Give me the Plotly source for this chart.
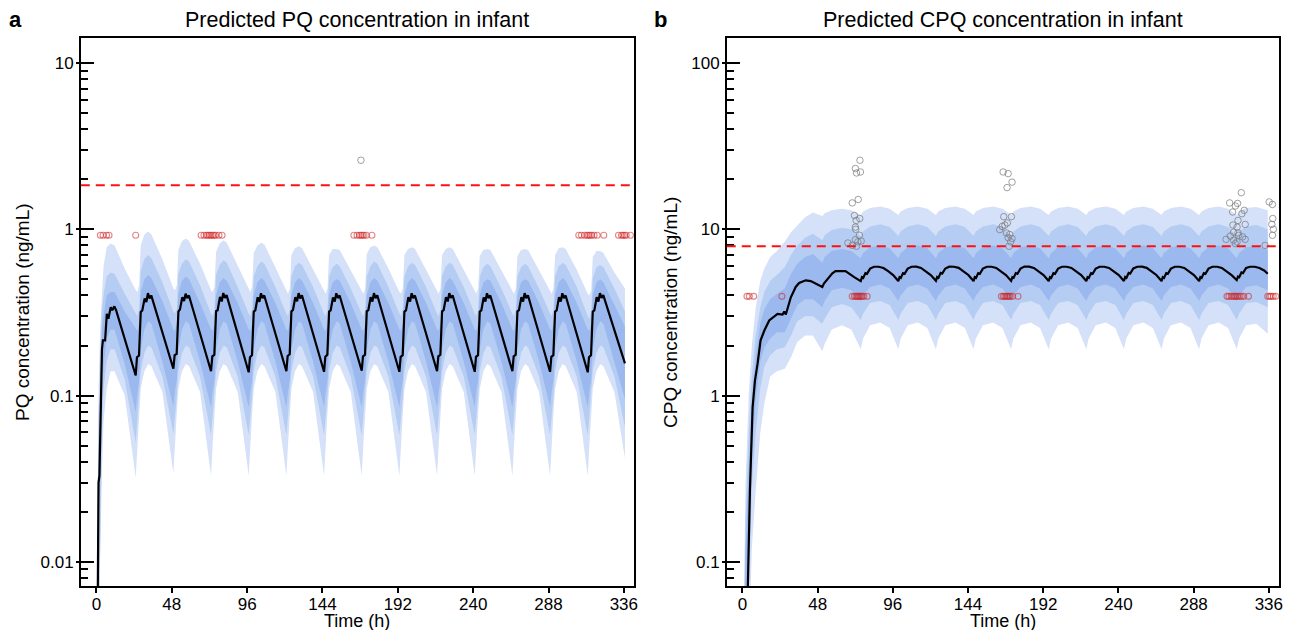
import plotly.graph_objects as go


def flat(rows):
    return [v for row in rows for v in row]


# ---------------- panel a : PQ in infant ----------------
pq_med_t = flat([
    [0.6, 1.3, 1.9, 2.3, 3.5, 4.1, 5.5, 6.6, 7.6, 9.1, 10.1, 11.4, 12.5],
    [25.0, 25.8, 27.1, 28.2, 29.2, 30.7, 31.8, 32.8, 33.8, 34.9],
    [49.0, 49.8, 51.1, 52.2, 53.2, 54.7, 55.8, 56.8, 57.8, 58.9],
    [73.0, 73.8, 75.1, 76.2, 77.2, 78.7, 79.8, 80.8, 81.8, 82.9],
    [97.0, 97.8, 99.1, 100.2, 101.2, 102.7, 103.8, 104.8, 105.8, 106.9],
    [121.0, 121.8, 123.1, 124.2, 125.2, 126.7, 127.8, 128.8, 129.8, 130.9],
    [145.0, 145.8, 147.1, 148.2, 149.2, 150.7, 151.8, 152.8, 153.8, 154.9],
    [169.0, 169.8, 171.1, 172.2, 173.2, 174.7, 175.8, 176.8, 177.8, 178.9],
    [193.0, 193.8, 195.1, 196.2, 197.2, 198.7, 199.8, 200.8, 201.8, 202.9],
    [217.0, 217.8, 219.1, 220.2, 221.2, 222.7, 223.8, 224.8, 225.8, 226.9],
    [241.0, 241.8, 243.1, 244.2, 245.2, 246.7, 247.8, 248.8, 249.8, 250.9],
    [265.0, 265.8, 267.1, 268.2, 269.2, 270.7, 271.8, 272.8, 273.8, 274.9],
    [289.0, 289.8, 291.1, 292.2, 293.2, 294.7, 295.8, 296.8, 297.8, 298.9],
    [313.0, 313.8, 315.1, 316.2, 317.2, 318.7, 319.8, 320.8, 321.8, 322.9],
    [336.7],
])
pq_median = flat([
    [0.003, 0.030, 0.033, 0.06, 0.19, 0.215, 0.215, 0.31, 0.29, 0.34, 0.326, 0.344, 0.326],
    [0.132, 0.170, 0.174, 0.318, 0.325, 0.384, 0.365, 0.413, 0.384, 0.400],
    [0.145, 0.175, 0.178, 0.320, 0.330, 0.390, 0.370, 0.410, 0.385, 0.400],
    [0.140, 0.172, 0.176, 0.322, 0.326, 0.392, 0.368, 0.414, 0.386, 0.402],
    [0.138, 0.170, 0.175, 0.320, 0.325, 0.390, 0.366, 0.412, 0.385, 0.400],
    [0.140, 0.173, 0.177, 0.321, 0.327, 0.391, 0.369, 0.413, 0.384, 0.401],
    [0.139, 0.171, 0.176, 0.320, 0.325, 0.389, 0.367, 0.412, 0.386, 0.400],
    [0.141, 0.172, 0.176, 0.322, 0.326, 0.390, 0.368, 0.413, 0.385, 0.401],
    [0.139, 0.171, 0.175, 0.320, 0.325, 0.390, 0.367, 0.412, 0.385, 0.400],
    [0.140, 0.172, 0.176, 0.321, 0.326, 0.391, 0.368, 0.413, 0.386, 0.401],
    [0.139, 0.171, 0.175, 0.320, 0.325, 0.389, 0.367, 0.412, 0.385, 0.400],
    [0.140, 0.172, 0.176, 0.321, 0.326, 0.390, 0.368, 0.413, 0.385, 0.401],
    [0.139, 0.171, 0.175, 0.320, 0.325, 0.390, 0.367, 0.412, 0.385, 0.400],
    [0.138, 0.170, 0.175, 0.320, 0.325, 0.390, 0.368, 0.413, 0.386, 0.402],
    [0.156],
])

pq_band_t = flat([
    [0.6, 1.3, 2.3, 3.5, 4.5, 6.5, 9.0, 11.5, 18.0],
    [25.0, 26.0, 27.2, 28.2, 30.5, 33.0, 35.0, 42.0],
    [49.0, 50.0, 51.2, 52.2, 54.5, 57.0, 59.0, 66.0],
    [73.0, 74.0, 75.2, 76.2, 78.5, 81.0, 83.0, 90.0],
    [97.0, 98.0, 99.2, 100.2, 102.5, 105.0, 107.0, 114.0],
    [121.0, 122.0, 123.2, 124.2, 126.5, 129.0, 131.0, 138.0],
    [145.0, 146.0, 147.2, 148.2, 150.5, 153.0, 155.0, 162.0],
    [169.0, 170.0, 171.2, 172.2, 174.5, 177.0, 179.0, 186.0],
    [193.0, 194.0, 195.2, 196.2, 198.5, 201.0, 203.0, 210.0],
    [217.0, 218.0, 219.2, 220.2, 222.5, 225.0, 227.0, 234.0],
    [241.0, 242.0, 243.2, 244.2, 246.5, 249.0, 251.0, 258.0],
    [265.0, 266.0, 267.2, 268.2, 270.5, 273.0, 275.0, 282.0],
    [289.0, 290.0, 291.2, 292.2, 294.5, 297.0, 299.0, 306.0],
    [313.0, 314.0, 315.2, 316.2, 318.5, 321.0, 323.0, 330.0],
    [336.7],
])
pq_hi_outer = flat([
    [0.015, 0.10, 0.25, 0.45, 0.60, 0.78, 0.82, 0.80, 0.58],
    [0.43, 0.42, 0.46, 0.80, 0.93, 0.97, 0.93, 0.66],
    [0.44, 0.43, 0.46, 0.75, 0.85, 0.88, 0.85, 0.62],
    [0.43, 0.42, 0.45, 0.73, 0.82, 0.86, 0.83, 0.60],
    [0.43, 0.42, 0.45, 0.72, 0.80, 0.83, 0.81, 0.59],
    [0.42, 0.41, 0.44, 0.70, 0.77, 0.79, 0.77, 0.57],
    [0.42, 0.41, 0.44, 0.70, 0.76, 0.76, 0.75, 0.56],
    [0.42, 0.41, 0.44, 0.71, 0.78, 0.80, 0.78, 0.58],
    [0.42, 0.41, 0.44, 0.70, 0.76, 0.78, 0.76, 0.57],
    [0.42, 0.41, 0.44, 0.70, 0.76, 0.78, 0.76, 0.57],
    [0.42, 0.41, 0.44, 0.69, 0.75, 0.76, 0.75, 0.56],
    [0.42, 0.41, 0.44, 0.69, 0.75, 0.76, 0.75, 0.56],
    [0.42, 0.41, 0.44, 0.70, 0.77, 0.78, 0.76, 0.57],
    [0.41, 0.40, 0.43, 0.68, 0.74, 0.74, 0.72, 0.55],
    [0.44],
])
pq_hi_mid = flat([
    [0.009, 0.07, 0.15, 0.33, 0.40, 0.52, 0.55, 0.54, 0.41],
    [0.31, 0.30, 0.33, 0.56, 0.66, 0.70, 0.67, 0.48],
    [0.32, 0.31, 0.33, 0.54, 0.62, 0.66, 0.64, 0.46],
    [0.31, 0.30, 0.33, 0.53, 0.61, 0.65, 0.63, 0.45],
    [0.31, 0.30, 0.33, 0.52, 0.60, 0.64, 0.62, 0.45],
    [0.31, 0.30, 0.33, 0.52, 0.60, 0.63, 0.61, 0.45],
    [0.31, 0.30, 0.33, 0.52, 0.59, 0.62, 0.60, 0.44],
    [0.31, 0.30, 0.33, 0.52, 0.60, 0.64, 0.62, 0.45],
    [0.31, 0.30, 0.33, 0.52, 0.60, 0.63, 0.61, 0.45],
    [0.31, 0.30, 0.33, 0.52, 0.60, 0.63, 0.61, 0.45],
    [0.31, 0.30, 0.33, 0.52, 0.59, 0.62, 0.60, 0.44],
    [0.31, 0.30, 0.33, 0.52, 0.59, 0.62, 0.60, 0.44],
    [0.31, 0.30, 0.33, 0.52, 0.60, 0.63, 0.61, 0.45],
    [0.30, 0.29, 0.32, 0.51, 0.59, 0.61, 0.59, 0.44],
    [0.32],
])
pq_hi_inner = flat([
    [0.006, 0.05, 0.10, 0.26, 0.30, 0.40, 0.42, 0.42, 0.32],
    [0.25, 0.245, 0.27, 0.42, 0.50, 0.53, 0.51, 0.37],
    [0.25, 0.245, 0.27, 0.41, 0.49, 0.52, 0.50, 0.36],
    [0.25, 0.245, 0.27, 0.40, 0.48, 0.51, 0.49, 0.36],
    [0.25, 0.245, 0.27, 0.40, 0.48, 0.51, 0.49, 0.36],
    [0.25, 0.245, 0.27, 0.40, 0.48, 0.51, 0.49, 0.36],
    [0.25, 0.245, 0.27, 0.40, 0.48, 0.50, 0.49, 0.36],
    [0.25, 0.245, 0.27, 0.40, 0.48, 0.51, 0.49, 0.36],
    [0.25, 0.245, 0.27, 0.40, 0.48, 0.51, 0.49, 0.36],
    [0.25, 0.245, 0.27, 0.40, 0.48, 0.51, 0.49, 0.36],
    [0.25, 0.245, 0.27, 0.40, 0.48, 0.50, 0.49, 0.36],
    [0.25, 0.245, 0.27, 0.40, 0.48, 0.50, 0.49, 0.36],
    [0.25, 0.245, 0.27, 0.40, 0.48, 0.51, 0.49, 0.36],
    [0.25, 0.245, 0.27, 0.40, 0.48, 0.50, 0.48, 0.35],
    [0.26],
])
pq_lo_inner = flat([
    [0.0015, 0.015, 0.035, 0.10, 0.15, 0.22, 0.25, 0.25, 0.155],
    [0.080, 0.100, 0.122, 0.19, 0.25, 0.28, 0.27, 0.16],
    [0.086, 0.106, 0.126, 0.19, 0.25, 0.28, 0.27, 0.16],
    [0.085, 0.105, 0.125, 0.19, 0.25, 0.28, 0.27, 0.16],
    [0.085, 0.105, 0.125, 0.19, 0.25, 0.28, 0.27, 0.16],
    [0.085, 0.105, 0.125, 0.19, 0.25, 0.28, 0.27, 0.16],
    [0.085, 0.105, 0.125, 0.19, 0.25, 0.28, 0.27, 0.16],
    [0.085, 0.105, 0.125, 0.19, 0.25, 0.28, 0.27, 0.16],
    [0.085, 0.105, 0.125, 0.19, 0.25, 0.28, 0.27, 0.16],
    [0.085, 0.105, 0.125, 0.19, 0.25, 0.28, 0.27, 0.16],
    [0.085, 0.105, 0.125, 0.19, 0.25, 0.28, 0.27, 0.16],
    [0.085, 0.105, 0.125, 0.19, 0.25, 0.28, 0.27, 0.16],
    [0.085, 0.105, 0.125, 0.19, 0.25, 0.28, 0.27, 0.16],
    [0.085, 0.105, 0.125, 0.19, 0.25, 0.28, 0.27, 0.16],
    [0.095],
])
pq_lo_mid = flat([
    [0.001, 0.008, 0.02, 0.06, 0.11, 0.16, 0.19, 0.19, 0.125],
    [0.052, 0.070, 0.097, 0.14, 0.18, 0.20, 0.195, 0.13],
    [0.059, 0.076, 0.10, 0.14, 0.18, 0.20, 0.195, 0.13],
    [0.058, 0.075, 0.10, 0.14, 0.18, 0.20, 0.195, 0.13],
    [0.058, 0.075, 0.10, 0.14, 0.18, 0.20, 0.195, 0.13],
    [0.058, 0.075, 0.10, 0.14, 0.18, 0.20, 0.195, 0.13],
    [0.058, 0.075, 0.10, 0.14, 0.18, 0.20, 0.195, 0.13],
    [0.058, 0.075, 0.10, 0.14, 0.18, 0.20, 0.195, 0.13],
    [0.058, 0.075, 0.10, 0.14, 0.18, 0.20, 0.195, 0.13],
    [0.058, 0.075, 0.10, 0.14, 0.18, 0.20, 0.195, 0.13],
    [0.058, 0.075, 0.10, 0.14, 0.18, 0.20, 0.195, 0.13],
    [0.058, 0.075, 0.10, 0.14, 0.18, 0.20, 0.195, 0.13],
    [0.058, 0.075, 0.10, 0.14, 0.18, 0.20, 0.195, 0.13],
    [0.058, 0.075, 0.10, 0.14, 0.18, 0.20, 0.195, 0.13],
    [0.065],
])
pq_lo_outer = flat([
    [0.0005, 0.004, 0.01, 0.035, 0.07, 0.11, 0.14, 0.14, 0.10],
    [0.032, 0.047, 0.078, 0.11, 0.14, 0.155, 0.15, 0.105],
    [0.034, 0.050, 0.08, 0.11, 0.14, 0.155, 0.15, 0.105],
    [0.033, 0.050, 0.08, 0.11, 0.14, 0.155, 0.15, 0.105],
    [0.033, 0.050, 0.08, 0.11, 0.14, 0.155, 0.15, 0.105],
    [0.033, 0.050, 0.08, 0.11, 0.14, 0.155, 0.15, 0.105],
    [0.033, 0.050, 0.08, 0.11, 0.14, 0.155, 0.15, 0.105],
    [0.033, 0.050, 0.08, 0.11, 0.14, 0.155, 0.15, 0.105],
    [0.033, 0.050, 0.08, 0.11, 0.14, 0.155, 0.15, 0.105],
    [0.033, 0.050, 0.08, 0.11, 0.14, 0.155, 0.15, 0.105],
    [0.033, 0.050, 0.08, 0.11, 0.14, 0.155, 0.15, 0.105],
    [0.033, 0.050, 0.08, 0.11, 0.14, 0.155, 0.15, 0.105],
    [0.033, 0.050, 0.08, 0.11, 0.14, 0.155, 0.15, 0.105],
    [0.033, 0.050, 0.08, 0.11, 0.14, 0.155, 0.15, 0.105],
    [0.042],
])

pq_lloq = 1.84
pq_blq_level = 0.92
pq_blq_t = [2.5, 4.2, 6.4, 8.0, 25.0,
            66.7, 68.5, 70.0, 71.0, 72.0, 73.0, 74.0, 75.0, 76.0, 78.0, 80.0,
            164.0, 166.0, 167.5, 168.5, 169.5, 170.5, 172.0, 175.5,
            307.3, 309.0, 311.0, 312.5, 313.5, 314.5, 315.5, 317.0, 319.0, 323.2,
            332.6, 334.5, 335.5, 336.5, 337.5, 340.2]
pq_obs_t = [168.5]
pq_obs = [2.6]

# ---------------- panel b : CPQ in infant ----------------
cpq_med_t = flat([
    [2.6, 3.4, 4.8, 6.5, 8.0, 9.7, 11.6, 14.0, 17.1, 22.4, 25.6, 26.7, 27.7, 30.9, 34.0,
     36.2, 40.4, 43.6, 47.8],
    [51.0, 52.0, 54.2, 57.4, 59.4, 65.8, 71.1],
    [75.5, 76.3, 77.1, 78.5, 79.5, 81.5, 84.0, 87.0, 90.0, 93.0, 96.2],
    [99.5, 100.3, 101.1, 102.5, 103.5, 105.5, 108.0, 111.0, 114.0, 117.0, 120.2],
    [123.5, 124.3, 125.1, 126.5, 127.5, 129.5, 132.0, 135.0, 138.0, 141.0, 144.2],
    [147.5, 148.3, 149.1, 150.5, 151.5, 153.5, 156.0, 159.0, 162.0, 165.0, 168.2],
    [171.5, 172.3, 173.1, 174.5, 175.5, 177.5, 180.0, 183.0, 186.0, 189.0, 192.2],
    [195.5, 196.3, 197.1, 198.5, 199.5, 201.5, 204.0, 207.0, 210.0, 213.0, 216.2],
    [219.5, 220.3, 221.1, 222.5, 223.5, 225.5, 228.0, 231.0, 234.0, 237.0, 240.2],
    [243.5, 244.3, 245.1, 246.5, 247.5, 249.5, 252.0, 255.0, 258.0, 261.0, 264.2],
    [267.5, 268.3, 269.1, 270.5, 271.5, 273.5, 276.0, 279.0, 282.0, 285.0, 288.2],
    [291.5, 292.3, 293.1, 294.5, 295.5, 297.5, 300.0, 303.0, 306.0, 309.0, 312.2],
    [315.5, 316.3, 317.1, 318.5, 319.5, 321.5, 324.0, 327.0, 330.0, 333.0, 335.3],
])
cpq_median = flat([
    [0.03, 0.07, 0.27, 0.85, 1.23, 1.56, 2.15, 2.46, 2.83, 3.10, 3.07, 3.20, 3.07, 3.90, 4.50,
     4.75, 4.93, 4.88, 4.68],
    [4.50, 4.72, 4.98, 5.43, 5.60, 5.60, 5.17],
    [4.88, 5.15, 5.10, 5.45, 5.40, 5.80, 5.95, 5.95, 5.85, 5.60, 5.30],
    [4.88, 5.15, 5.10, 5.45, 5.40, 5.80, 5.95, 5.96, 5.85, 5.60, 5.30],
    [4.90, 5.16, 5.10, 5.46, 5.41, 5.81, 5.96, 5.95, 5.86, 5.61, 5.31],
    [4.88, 5.15, 5.10, 5.45, 5.40, 5.80, 5.95, 5.95, 5.85, 5.60, 5.30],
    [4.89, 5.15, 5.11, 5.45, 5.40, 5.80, 5.96, 5.96, 5.85, 5.60, 5.30],
    [4.88, 5.15, 5.10, 5.45, 5.40, 5.80, 5.95, 5.95, 5.85, 5.60, 5.30],
    [4.88, 5.15, 5.10, 5.45, 5.40, 5.80, 5.95, 5.95, 5.85, 5.60, 5.30],
    [4.89, 5.16, 5.10, 5.46, 5.41, 5.81, 5.95, 5.96, 5.86, 5.61, 5.31],
    [4.88, 5.15, 5.10, 5.45, 5.40, 5.80, 5.95, 5.95, 5.85, 5.60, 5.30],
    [4.88, 5.15, 5.10, 5.45, 5.40, 5.80, 5.95, 5.95, 5.85, 5.60, 5.30],
    [4.95, 5.20, 5.15, 5.50, 5.45, 5.85, 5.95, 5.95, 5.85, 5.65, 5.40],
])

cpq_band_t = flat([
    [1.0, 2.0, 4.0, 6.0, 8.5, 11.4, 14.0, 17.7, 22.0, 27.0, 31.0, 35.0, 40.0, 45.0],
    [51.0, 52.5, 57.0, 63.5, 69.5],
    [75.5, 77.0, 81.5, 88.0, 94.0],
    [99.5, 101.0, 105.5, 112.0, 118.0],
    [123.5, 125.0, 129.5, 136.0, 142.0],
    [147.5, 149.0, 153.5, 160.0, 166.0],
    [171.5, 173.0, 177.5, 184.0, 190.0],
    [195.5, 197.0, 201.5, 208.0, 214.0],
    [219.5, 221.0, 225.5, 232.0, 238.0],
    [243.5, 245.0, 249.5, 256.0, 262.0],
    [267.5, 269.0, 273.5, 280.0, 286.0],
    [291.5, 293.0, 297.5, 304.0, 310.0],
    [315.5, 317.0, 321.5, 328.0],
    [335.3],
])
cpq_hi_outer = flat([
    [0.07, 0.30, 1.0, 2.0, 3.4, 4.9, 5.8, 6.8, 7.4, 8.4, 9.6, 10.5, 11.8, 12.6],
    [12.0, 12.5, 13.0, 13.3, 13.0],
    [12.2, 12.8, 13.4, 13.7, 13.3],
    [12.2, 12.8, 13.4, 13.7, 13.3],
    [12.2, 12.8, 13.4, 13.7, 13.3],
    [12.2, 12.8, 13.4, 13.7, 13.3],
    [12.2, 12.8, 13.4, 13.7, 13.3],
    [12.2, 12.8, 13.4, 13.7, 13.3],
    [12.2, 12.8, 13.4, 13.7, 13.3],
    [12.2, 12.8, 13.4, 13.7, 13.3],
    [12.2, 12.8, 13.4, 13.7, 13.3],
    [12.2, 12.8, 13.4, 13.7, 13.3],
    [12.2, 12.8, 13.4, 13.6],
    [13.0],
])
cpq_hi_mid = flat([
    [0.04, 0.18, 0.6, 1.3, 2.3, 3.4, 4.2, 4.9, 5.3, 5.9, 7.0, 8.0, 8.9, 9.4],
    [8.6, 9.2, 9.9, 10.2, 10.0],
    [9.1, 9.7, 10.4, 10.7, 10.3],
    [9.1, 9.7, 10.4, 10.7, 10.3],
    [9.1, 9.7, 10.4, 10.7, 10.3],
    [9.1, 9.7, 10.4, 10.7, 10.3],
    [9.1, 9.7, 10.4, 10.7, 10.3],
    [9.1, 9.7, 10.4, 10.7, 10.3],
    [9.1, 9.7, 10.4, 10.7, 10.3],
    [9.1, 9.7, 10.4, 10.7, 10.3],
    [9.1, 9.7, 10.4, 10.7, 10.3],
    [9.1, 9.7, 10.4, 10.7, 10.3],
    [9.1, 9.7, 10.4, 10.6],
    [10.0],
])
cpq_hi_inner = flat([
    [0.03, 0.12, 0.35, 0.95, 1.7, 2.7, 3.3, 3.8, 4.1, 4.4, 5.4, 6.2, 6.8, 7.1],
    [6.3, 6.8, 7.4, 7.6, 7.4],
    [6.7, 7.2, 7.8, 8.0, 7.7],
    [6.7, 7.2, 7.8, 8.0, 7.7],
    [6.7, 7.2, 7.8, 8.0, 7.7],
    [6.7, 7.2, 7.8, 8.0, 7.7],
    [6.7, 7.2, 7.8, 8.0, 7.7],
    [6.7, 7.2, 7.8, 8.0, 7.7],
    [6.7, 7.2, 7.8, 8.0, 7.7],
    [6.7, 7.2, 7.8, 8.0, 7.7],
    [6.7, 7.2, 7.8, 8.0, 7.7],
    [6.7, 7.2, 7.8, 8.0, 7.7],
    [6.7, 7.2, 7.8, 7.9],
    [7.5],
])
cpq_lo_inner = flat([
    [0.01, 0.03, 0.08, 0.45, 0.95, 1.6, 1.95, 2.2, 2.4, 2.4, 2.9, 3.5, 3.8, 3.8],
    [3.4, 3.7, 4.3, 4.45, 4.3],
    [3.7, 4.0, 4.5, 4.65, 4.4],
    [3.7, 4.0, 4.5, 4.65, 4.4],
    [3.7, 4.0, 4.5, 4.65, 4.4],
    [3.7, 4.0, 4.5, 4.65, 4.4],
    [3.7, 4.0, 4.5, 4.65, 4.4],
    [3.7, 4.0, 4.5, 4.65, 4.4],
    [3.7, 4.0, 4.5, 4.65, 4.4],
    [3.7, 4.0, 4.5, 4.65, 4.4],
    [3.7, 4.0, 4.5, 4.65, 4.4],
    [3.7, 4.0, 4.5, 4.65, 4.4],
    [3.7, 4.0, 4.5, 4.6],
    [4.3],
])
cpq_lo_mid = flat([
    [0.005, 0.015, 0.05, 0.28, 0.6, 1.1, 1.5, 1.75, 1.9, 1.95, 2.3, 2.8, 3.0, 3.0],
    [2.7, 2.9, 3.4, 3.55, 3.4],
    [2.85, 3.1, 3.6, 3.7, 3.5],
    [2.85, 3.1, 3.6, 3.7, 3.5],
    [2.85, 3.1, 3.6, 3.7, 3.5],
    [2.85, 3.1, 3.6, 3.7, 3.5],
    [2.85, 3.1, 3.6, 3.7, 3.5],
    [2.85, 3.1, 3.6, 3.7, 3.5],
    [2.85, 3.1, 3.6, 3.7, 3.5],
    [2.85, 3.1, 3.6, 3.7, 3.5],
    [2.85, 3.1, 3.6, 3.7, 3.5],
    [2.85, 3.1, 3.6, 3.7, 3.5],
    [2.85, 3.1, 3.6, 3.65],
    [3.4],
])
cpq_lo_outer = flat([
    [0.002, 0.007, 0.025, 0.12, 0.27, 0.6, 0.9, 1.3, 1.4, 1.45, 1.7, 2.1, 2.3, 2.3],
    [1.85, 2.05, 2.5, 2.65, 2.5],
    [1.9, 2.2, 2.65, 2.75, 2.55],
    [1.9, 2.2, 2.65, 2.75, 2.55],
    [1.9, 2.2, 2.65, 2.75, 2.55],
    [1.9, 2.2, 2.65, 2.75, 2.55],
    [1.9, 2.2, 2.65, 2.75, 2.55],
    [1.9, 2.2, 2.65, 2.75, 2.55],
    [1.9, 2.2, 2.65, 2.75, 2.55],
    [1.9, 2.2, 2.65, 2.75, 2.55],
    [1.9, 2.2, 2.65, 2.75, 2.55],
    [1.9, 2.2, 2.65, 2.75, 2.55],
    [1.9, 2.2, 2.65, 2.7],
    [2.35],
])

cpq_lloq = 7.9
cpq_blq_level = 3.95
cpq_blq_t = [2.9, 4.4, 7.2, 25.2,
             70.1, 71.5, 72.5, 73.3, 74.0, 74.8, 75.6, 76.5, 77.5, 79.6,
             165.3, 166.5, 167.5, 168.5, 169.3, 170.2, 171.0, 172.5, 175.9,
             309.3, 310.5, 312.0, 313.2, 314.2, 315.0, 316.0, 317.2, 318.5, 320.0, 323.0,
             335.3, 336.5, 337.5, 338.8, 340.4]
cpq_obs_t = [75.0, 72.1, 75.3, 72.8, 70.1, 73.9, 71.5, 74.9, 72.6, 72.1, 72.3, 74.7,
             72.1, 67.3, 70.1, 73.7, 75.8, 72.8,
             166.4, 169.6, 172.1, 168.9, 166.8, 171.7, 169.1, 167.5, 165.8, 164.2,
             168.5, 170.6, 169.6, 172.1, 171.2, 170.2,
             318.4, 311.0, 316.0, 314.6, 320.3, 312.9, 318.8, 316.3, 320.9, 313.1,
             315.7, 313.5, 316.3, 316.7, 311.4, 319.2, 313.5, 315.7, 320.9, 308.7,
             314.6, 333.6, 336.2, 338.3, 338.5, 337.9, 338.9, 338.3]
cpq_obs = [26.0, 23.2, 22.1, 21.8, 14.4, 15.1, 12.1, 11.6, 11.3, 10.3, 10.0, 9.2,
           8.65, 8.27, 8.0, 8.4, 8.5, 7.9,
           22.1, 21.6, 19.2, 17.8, 11.9, 11.9, 10.9, 10.6, 10.4, 9.95,
           9.5, 9.3, 8.9, 8.8, 8.4, 7.9,
           16.6, 14.4, 14.3, 13.8, 13.0, 12.7, 12.4, 11.3, 10.7, 10.6,
           10.3, 9.6, 9.5, 9.2, 9.1, 9.0, 8.6, 8.4, 8.7, 8.7,
           8.2, 8.0, 14.6, 14.1, 11.6, 10.7, 10.0, 9.2]

time_ticks = [0, 48, 96, 144, 192, 240, 288, 336]
pq_ticks = [0.01, 0.1, 1, 10]
pq_ticktext = ["0.01", "0.1", "1", "10"]
cpq_ticks = [0.1, 1, 10, 100]
cpq_ticktext = ["0.1", "1", "10", "100"]

# ---------------- styling ----------------
FONT = "Liberation Sans, Arial, sans-serif"
C_OUTER = "#d4e1f8"
C_MID = "#b5ccf3"
C_INNER = "#9bb9ee"
W, H = 1285, 622  # page body keeps its 8px margin

fig = go.Figure()


def add_panel(xa, ya, band_t, bands, med_t, med, blq_t, blq_level, obs_t, obs):
    for lo, hi, col in bands:
        fig.add_trace(go.Scatter(
            x=band_t + band_t[::-1], y=hi + lo[::-1], xaxis=xa, yaxis=ya,
            fill="toself", fillcolor=col, line=dict(width=0), mode="lines",
            hoverinfo="skip", showlegend=False))
    fig.add_trace(go.Scatter(x=med_t, y=med, xaxis=xa, yaxis=ya, mode="lines",
                             line=dict(color="black", width=2.2), showlegend=False))
    fig.add_trace(go.Scatter(x=blq_t, y=[blq_level] * len(blq_t), xaxis=xa, yaxis=ya,
                             mode="markers", showlegend=False,
                             marker=dict(symbol="circle-open", size=6,
                                         color="rgba(205,35,35,0.55)",
                                         line=dict(width=1.1))))
    fig.add_trace(go.Scatter(x=obs_t, y=obs, xaxis=xa, yaxis=ya, mode="markers",
                             showlegend=False,
                             marker=dict(symbol="circle-open", size=6.5,
                                         color="rgba(120,120,120,0.7)",
                                         line=dict(width=1))))


add_panel("x", "y", pq_band_t,
          [(pq_lo_outer, pq_hi_outer, C_OUTER), (pq_lo_mid, pq_hi_mid, C_MID),
           (pq_lo_inner, pq_hi_inner, C_INNER)],
          pq_med_t, pq_median, pq_blq_t, pq_blq_level, pq_obs_t, pq_obs)
add_panel("x2", "y2", cpq_band_t,
          [(cpq_lo_outer, cpq_hi_outer, C_OUTER), (cpq_lo_mid, cpq_hi_mid, C_MID),
           (cpq_lo_inner, cpq_hi_inner, C_INNER)],
          cpq_med_t, cpq_median, cpq_blq_t, cpq_blq_level, cpq_obs_t, cpq_obs)

# empty traces so the overlay axes (outer part of the major ticks) get drawn
fig.add_trace(go.Scatter(x=[], y=[], xaxis="x", yaxis="y3", showlegend=False))
fig.add_trace(go.Scatter(x=[], y=[], xaxis="x2", yaxis="y4", showlegend=False))

# LLOQ dashed lines
for yref, xref, val in [("y", "x domain", pq_lloq), ("y2", "x2 domain", cpq_lloq)]:
    fig.add_shape(type="line", xref=xref, yref=yref, x0=0, x1=1, y0=val, y1=val,
                  line=dict(color="#ff1010", width=2, dash="9px,6px"))


def px_x(p):
    return (p - 8) / W


def px_y(p):
    return 1 - (p - 8) / H


def minor_vals(lo_exp, hi_exp):
    return [m * 10 ** e for e in range(lo_exp, hi_exp + 1) for m in range(2, 10)]


xcommon = dict(range=[-10, 342.5], tickmode="array", tickvals=time_ticks,
               ticks="outside", ticklen=5, tickwidth=1.5, tickcolor="black",
               showline=True, mirror=True, linecolor="black", linewidth=1.5,
               showgrid=False, zeroline=False, ticklabelstandoff=-3,
               tickfont=dict(family=FONT, size=17, color="black"))


def ycommon(rng, tv, tt, mv):
    return dict(type="log", range=rng, tickmode="array", tickvals=tv, ticktext=tt,
                ticks="inside", ticklen=13, tickwidth=1.5, tickcolor="black",
                minor=dict(tickmode="array", tickvals=mv, ticks="inside", ticklen=7,
                           tickwidth=1.5, tickcolor="black", showgrid=False),
                showline=True, mirror=True, linecolor="black", linewidth=1.5,
                showgrid=False, zeroline=False, ticklabelstandoff=2,
                tickfont=dict(family=FONT, size=17, color="black"))


def ynub(rng, tv, over, anchor):
    return dict(type="log", range=rng, overlaying=over, anchor=anchor, side="left",
                tickmode="array", tickvals=tv, ticks="outside", ticklen=4,
                tickwidth=1.5, tickcolor="black", showticklabels=False,
                showline=False, showgrid=False, zeroline=False)


pq_range = [-2.145, 1.15]
cpq_range = [-1.145, 2.15]
ydom = [px_y(586), px_y(38)]

fig.update_layout(
    width=W, height=H, margin=dict(l=0, r=0, t=0, b=0),
    paper_bgcolor="white", plot_bgcolor="white", showlegend=False,
    font=dict(family=FONT, color="black"),
    xaxis=dict(domain=[px_x(81), px_x(636)], anchor="y", **xcommon),
    xaxis2=dict(domain=[px_x(729), px_x(1283)], anchor="y2", **xcommon),
    yaxis=dict(domain=ydom, anchor="x", **ycommon(pq_range, pq_ticks, pq_ticktext,
                                                  minor_vals(-3, 1))),
    yaxis2=dict(domain=ydom, anchor="x2", **ycommon(cpq_range, cpq_ticks, cpq_ticktext,
                                                    minor_vals(-2, 2))),
    yaxis3=ynub(pq_range, pq_ticks, "y", "x"),
    yaxis4=ynub(cpq_range, cpq_ticks, "y2", "x2"),
)

annots = [
    dict(text="Predicted PQ concentration in infant", x=px_x(358.5), y=px_y(20), size=21.5),
    dict(text="Predicted CPQ concentration in infant", x=px_x(1006), y=px_y(20), size=21.5),
    dict(text="<b>a</b>", x=px_x(16), y=px_y(19), size=22),
    dict(text="<b>b</b>", x=px_x(663), y=px_y(19), size=22),
    dict(text="Time (h)", x=px_x(358.5), y=px_y(620.5), size=18),
    dict(text="Time (h)", x=px_x(1006), y=px_y(620.5), size=18),
]
for a in annots:
    fig.add_annotation(text=a["text"], x=a["x"], y=a["y"], xref="paper", yref="paper",
                       xanchor="center", yanchor="middle", showarrow=False,
                       font=dict(family=FONT, size=a["size"], color="black"))
for txt, xp in [("PQ concentration (ng/mL)", 22), ("CPQ concentration (ng/mL)", 672)]:
    fig.add_annotation(text=txt, x=px_x(xp), y=px_y(312), xref="paper", yref="paper",
                       xanchor="center", yanchor="middle", showarrow=False, textangle=-90,
                       font=dict(family=FONT, size=19, color="black"))

fig.write_html("out.html")
